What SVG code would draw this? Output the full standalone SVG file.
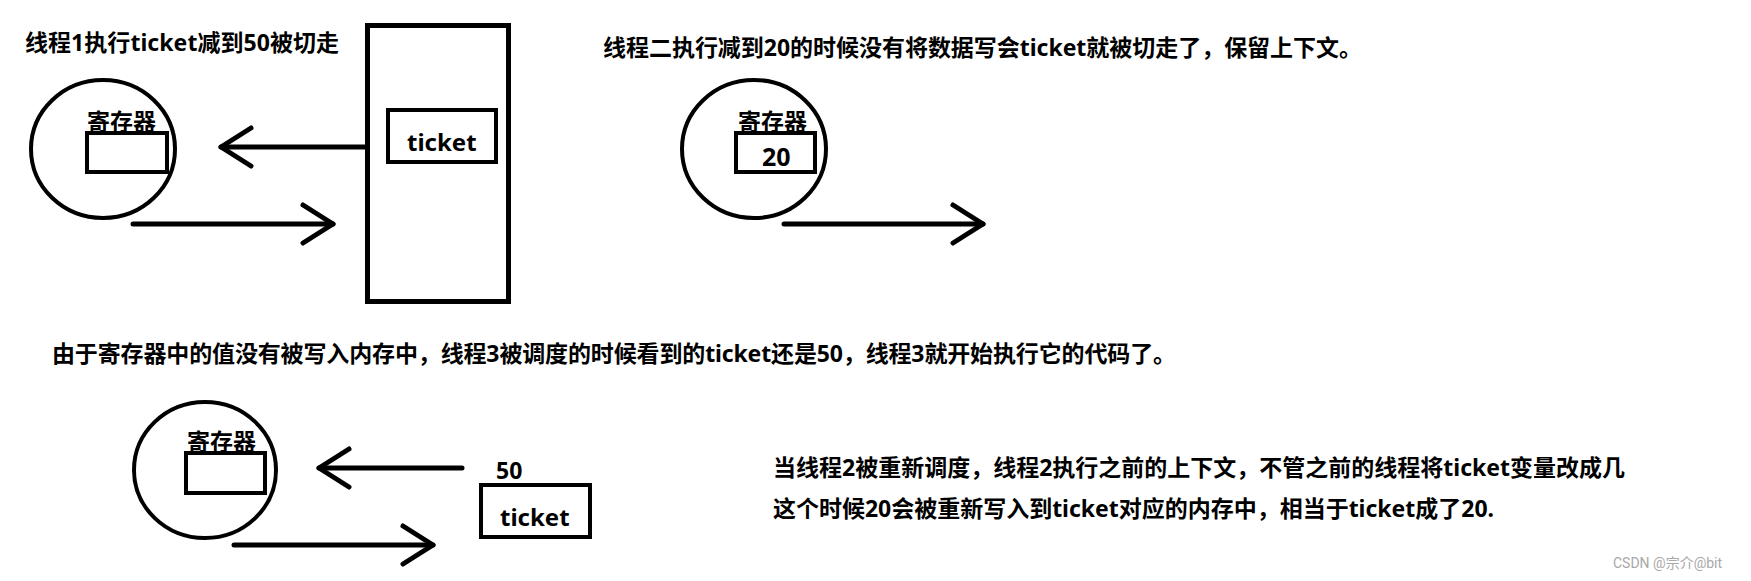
<svg xmlns="http://www.w3.org/2000/svg" width="1751" height="581" viewBox="0 0 1751 581">
<style>
.t { font-family: "Noto Sans", "Noto Sans CJK SC", sans-serif; font-weight: bold; fill: #000; }
.s { fill: none; stroke: #000; stroke-width: 4; }
.a { fill: none; stroke: #000; stroke-width: 5; stroke-linecap: round; stroke-linejoin: round; }
.wm { font-family: "Roboto", "Noto Sans CJK SC", sans-serif; font-size: 14px; fill: #a8a8a8; }
</style>
<defs>
<marker id="head" markerUnits="userSpaceOnUse" markerWidth="60" markerHeight="60" refX="0" refY="0" orient="auto" overflow="visible">
<path d="M-30,-19 L0,0 L-30,19" fill="none" stroke="#000" stroke-width="5" stroke-linecap="round" stroke-linejoin="round"/>
</marker>
</defs>
<rect width="1751" height="581" fill="#fff"/>

<g id="captions">
<text class="t" x="25" y="51" font-size="23" textLength="314">线程1执行ticket减到50被切走</text>
<text class="t" x="603" y="56" font-size="23" textLength="759">线程二执行减到20的时候没有将数据写会ticket就被切走了，保留上下文。</text>
<text class="t" x="52" y="362" font-size="23" textLength="1124">由于寄存器中的值没有被写入内存中，线程3被调度的时候看到的ticket还是50，线程3就开始执行它的代码了。</text>
<text class="t" x="773" y="476" font-size="23" textLength="852">当线程2被重新调度，线程2执行之前的上下文，不管之前的线程将ticket变量改成几</text>
<text class="t" x="773" y="517" font-size="23" textLength="721">这个时候20会被重新写入到ticket对应的内存中，相当于ticket成了20.</text>
</g>

<g id="thread1-register">
<ellipse class="s" cx="103" cy="149" rx="72" ry="69"/>
<text class="t" x="87" y="130" font-size="23">寄存器</text>
<rect class="s" x="87" y="133" width="80" height="39"/>
</g>

<g id="memory1">
<rect x="367.5" y="25.5" width="141" height="276" fill="none" stroke="#000" stroke-width="5"/>
<rect class="s" x="388" y="110" width="108" height="52"/>
<text class="t" x="407" y="151" font-size="24">ticket</text>
</g>

<g id="thread2-register">
<ellipse class="s" cx="754" cy="149" rx="72" ry="69"/>
<text class="t" x="738" y="130" font-size="23">寄存器</text>
<rect class="s" x="736" y="133" width="79" height="39"/>
<text class="t" x="762" y="166" font-size="25">20</text>
</g>

<g id="thread3-register">
<ellipse class="s" cx="205" cy="470" rx="71" ry="68"/>
<text class="t" x="187" y="450" font-size="23">寄存器</text>
<rect class="s" x="186" y="453" width="79" height="40"/>
</g>

<g id="memory3">
<text class="t" x="496" y="479" font-size="23">50</text>
<rect class="s" x="481" y="485" width="109" height="52"/>
<text class="t" x="500" y="526" font-size="24">ticket</text>
</g>

<g id="connectors">
<path class="a" d="M365,147 L221,147" marker-end="url(#head)"/>
<path class="a" d="M133,224 L333,224" marker-end="url(#head)"/>
<path class="a" d="M784,224 L983,224" marker-end="url(#head)"/>
<path class="a" d="M462,468 L319,468" marker-end="url(#head)"/>
<path class="a" d="M234,545 L433,545" marker-end="url(#head)"/>
</g>

<text class="wm" x="1613" y="568">CSDN @宗介@bit</text>
</svg>
